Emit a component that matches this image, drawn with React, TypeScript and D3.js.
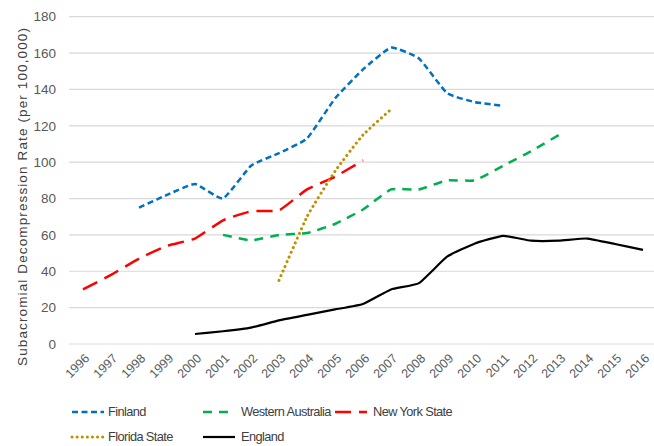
import React from "react";
import * as d3 from "d3";

const years = ["1996","1997","1998","1999","2000","2001","2002","2003","2004","2005","2006","2007","2008","2009","2010","2011","2012","2013","2014","2015","2016"];
const yTicks = [0, 20, 40, 60, 80, 100, 120, 140, 160, 180];

const finlandYears = ["1998","1999","2000","2001","2002","2003","2004","2005","2006","2007","2008","2009","2010","2011"];
const finland = [75, 82, 88, 80, 98, 105, 113, 135, 151, 163, 157, 138, 133, 131];

const waYears = ["2001","2002","2003","2004","2005","2006","2007","2008","2009","2010","2011","2012","2013"];
const westernAustralia = [60, 57, 60, 61, 66, 74, 85, 85, 90, 90, 98, 106, 115];

const nyYears = ["1996","1997","1998","1999","2000","2001","2002","2003","2004","2005","2006"];
const newYork = [30, 38, 47, 54, 58, 68, 73, 73.5, 85, 92, 101];

const flYears = ["2003","2004","2005","2006","2007"];
const florida = [35, 70, 95, 115, 129];

const enYears = ["2000","2001","2002","2003","2004","2005","2006","2007","2008","2009","2010","2011","2012","2013","2014","2015","2016"];
const england = [5.5, 7, 9, 13, 16, 19, 22, 30, 33.5, 48, 55.3, 59.5, 56.8, 56.8, 58, 55, 51.8];

const seriesNames = ["Finland", "Western Australia", "New York State", "Florida State", "England"];

export default function App() {
  const W = 654, H = 446;
  const left = 69, right = 657, top = 16.7, bottom = 344;
  const x = d3.scaleBand().domain(years).range([left, right]);
  const y = d3.scaleLinear().domain([0, 180]).range([bottom, top]);
  const cx = (yr: string) => (x(yr) as number) + x.bandwidth() / 2;

  const series = [
    { name: seriesNames[0], xs: finlandYears, vs: finland, color: "#0070C0", dash: "6,3.5", width: 2.5, cap: "butt" },
    { name: seriesNames[1], xs: waYears, vs: westernAustralia, color: "#00B050", dash: "9,7", width: 2.5, cap: "butt" },
    { name: seriesNames[2], xs: nyYears, vs: newYork, color: "#FF0000", dash: "16,8", width: 2.5, cap: "butt" },
    { name: seriesNames[3], xs: flYears, vs: florida, color: "#BF9000", dash: "0.1,5", width: 3, cap: "round" },
    { name: seriesNames[4], xs: enYears, vs: england, color: "#000000", dash: "", width: 2.2, cap: "butt" },
  ];

  const line = d3.line<[string, number]>()
    .x((d) => cx(d[0]))
    .y((d) => y(d[1]))
    .curve(d3.curveCardinal.tension(0.6));

  const legendPos = [
    { sx: 72, tx: 108, ly: 412 },
    { sx: 203, tx: 241, ly: 412 },
    { sx: 335, tx: 373, ly: 412 },
    { sx: 72, tx: 108, ly: 437 },
    { sx: 203, tx: 241, ly: 437 },
  ];

  const font = "'Liberation Sans', Arial, sans-serif";

  return (
    <svg width={W} height={H} style={{ position: "absolute", left: 0, top: 0, background: "#fff" }} fontFamily={font}>
      {yTicks.map((t) => (
        <g key={t}>
          <line x1={left} x2={W} y1={y(t)} y2={y(t)} stroke="#D9D9D9" strokeWidth={1.2} />
          <text x={56} y={y(t)} dy="0.35em" textAnchor="end" fontSize={13.5} fill="#595959">{t}</text>
        </g>
      ))}
      {years.map((yr) => (
        <text key={yr} transform={`translate(${cx(yr) + 4},${bottom + 12}) rotate(-45)`} textAnchor="end" dy="0.35em" fontSize={12.5} fill="#595959">{yr}</text>
      ))}
      <text transform={`translate(22,197) rotate(-90)`} textAnchor="middle" dy="0.35em" fontSize={13.5} fill="#404040" textLength={338} lengthAdjust="spacing">Subacromial Decompression Rate (per 100,000)</text>
      {series.map((s) => (
        <path key={s.name} d={line(s.xs.map((xx, i) => [xx, s.vs[i]] as [string, number])) || ""} fill="none" stroke={s.color} strokeWidth={s.width} strokeDasharray={s.dash || undefined} strokeLinecap={s.cap as any} strokeLinejoin="round" />
      ))}
      {series.map((s, i) => {
        const p = legendPos[i];
        return (
          <g key={"lg" + s.name}>
            <line x1={p.sx} x2={p.sx + 32} y1={p.ly} y2={p.ly} stroke={s.color} strokeWidth={s.width} strokeDasharray={s.dash || undefined} strokeLinecap={s.cap as any} />
            <text x={p.tx} y={p.ly} dy="0.35em" fontSize={12.8} fill="#404040" letterSpacing={-0.6}>{s.name}</text>
          </g>
        );
      })}
    </svg>
  );
}
